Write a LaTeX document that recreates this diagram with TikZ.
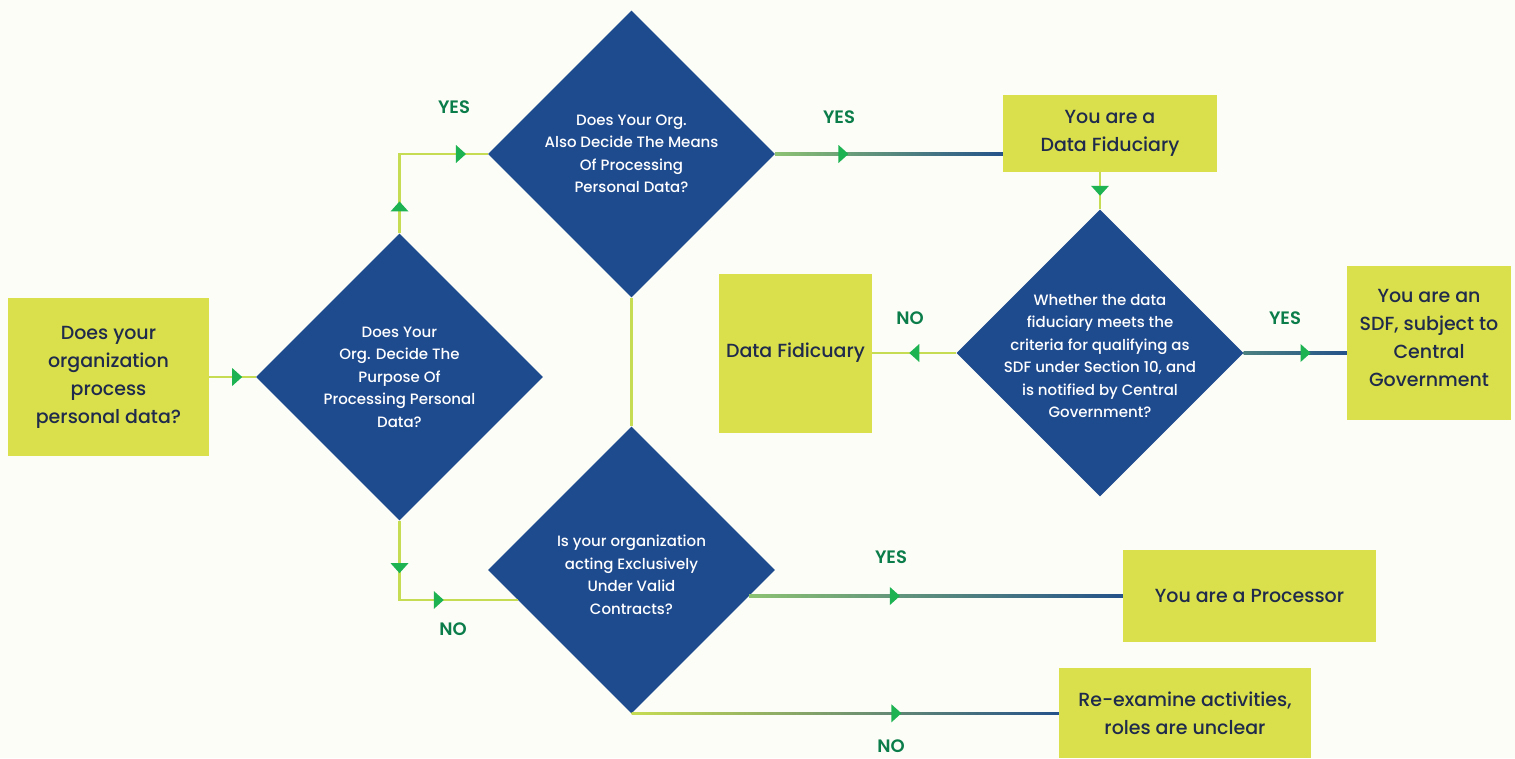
\documentclass[tikz,border=0pt]{standalone}
\usepackage{fontspec}
\setmainfont{Poppins}[UprightFont=* Medium, BoldFont=* SemiBold]
\usetikzlibrary{shapes.geometric,decorations.markings,calc}

\definecolor{bgcol}{HTML}{FDFDF7}
\definecolor{boxcol}{HTML}{D9E04B}
\definecolor{diacol}{HTML}{1E4A8E}
\definecolor{txtcol}{HTML}{1F2A4C}
\definecolor{yescol}{HTML}{0B7D4A}
\definecolor{tipcol}{HTML}{1DB352}
\definecolor{lineA}{HTML}{C6DC52}
\definecolor{lineB}{HTML}{8CC272}
\definecolor{lineC}{HTML}{24528A}
\definecolor{lineD}{HTML}{4B8080}

\newcommand\tipmark{\fill[tipcol] (5pt,0) -- (-5pt,9pt) -- (-5pt,-9pt) -- cycle;}

\tikzset{
  answerbox/.style={rectangle, fill=boxcol, text=txtcol, align=center, inner sep=0pt,
    font=\fontsize{19}{28}\selectfont},
  decision/.style={diamond, fill=diacol, inner sep=0pt, minimum width=287pt, minimum height=287pt},
  dtext/.style={text=white, align=center, font=\fontsize{15}{22.5}\selectfont},
  answer/.style={text=yescol, font=\bfseries\fontsize{18}{20}\selectfont},
  link/.style={draw=#1, line width=2.5pt},
  fade/.style 2 args={left color=#1, right color=#2},
  tip/.style={postaction={decorate}, decoration={markings, mark=at position #1 with {\tipmark}}},
  tips/.style 2 args={postaction={decorate}, decoration={markings,
    mark=at position #1 with {\tipmark}, mark=at position #2 with {\tipmark}}},
}

\begin{document}
\begin{tikzpicture}[x=1pt, y=-1pt]
\fill[bgcol] (0,0) rectangle (1515,758);
\useasboundingbox (0,0) rectangle (1515,758);

% boxes
\node[answerbox, minimum width=201pt, minimum height=158pt] (ask) at (108.5,377) {Does your\\organization\\process\\personal data?};
\node[answerbox, minimum width=214pt, minimum height=77pt] (fid) at (1110,133.5) {You are a\\Data Fiduciary};
\node[answerbox, minimum width=153pt, minimum height=159pt] (plain) at (795.5,353) {Data Fidicuary};
\node[answerbox, minimum width=164pt, minimum height=154pt, label={[answerbox, fill=none, yshift=5pt]center:{You are an\\SDF, subject to\\Central\\Government}}] (sdf) at (1429,343) {};
\node[answerbox, minimum width=253pt, minimum height=92pt] (proc) at (1249.5,596) {You are a Processor};
\node[answerbox, minimum width=252pt, minimum height=90pt] (unclear) at (1185,713) {Re-examine activities,\\roles are unclear};

% decisions
\node[decision, label={[dtext]center:{Does Your\\Org. Decide The\\Purpose Of\\Processing Personal\\Data?}}] (purpose) at (399.5,377) {};
\node[decision, label={[dtext]center:{Does Your Org.\\Also Decide The Means\\Of Processing\\Personal Data?}}] (means) at (631.5,154) {};
\node[decision, label={[dtext, yshift=-3pt]center:{Whether the data\\fiduciary meets the\\criteria for qualifying as\\SDF under Section 10, and\\is notified by Central\\Government?}}] (sdfq) at (1100,353) {};
\node[decision, label={[dtext, yshift=-5pt]center:{Is your organization\\acting Exclusively\\Under Valid\\Contracts?}}] (contract) at (631.5,570) {};

% links
\draw[link=lineA, tip=0.6] (ask.east) -- (purpose.west);
\draw[link=lineA, tips={0.16}{0.84}] (purpose.north) |- (means.west);
\draw[link=lineA, tips={0.24}{0.6}] (purpose.south) |- ($(contract.west)+(30,30)$);
\draw[link=lineA] (means.south) -- (contract.north);
\draw[link=lineA, tip=0.5] (fid.south -| sdfq.north) -- (sdfq.north);
\draw[link=lineA, tip=0.5] (sdfq.west) -- (plain.east);

\shade[fade={lineB}{lineC}] ($(means.east)+(0,-1.25)$) rectangle ($(fid.west |- means.east)+(0,1.25)$);
\path[tip=0.3] (means.east) -- (fid.west |- means.east);
\shade[fade={lineD}{lineC}] ($(sdfq.east)+(0,-1.25)$) rectangle ($(sdf.west |- sdfq.east)+(0,1.25)$);
\path[tip=0.6] (sdfq.east) -- (sdf.west |- sdfq.east);
\shade[fade={lineB}{lineC}] ($(contract.east)+(-26,24.75)$) rectangle ($(proc.west)+(0,1.25)$);
\path[tip=0.39] ($(contract.east)+(-26,26)$) -- (proc.west);
\shade[fade={lineA}{lineC}] ($(contract.south)+(0,-1.25)$) rectangle ($(unclear.west)+(0,1.25)$);
\path[tip=0.62] (contract.south) -- (unclear.west);

% answers
\node[answer] (yesa) at (454,107) {YES};
\node[answer] (yesb) at (839,117) {YES};
\node[answer] (noa) at (910,318) {NO};
\node[answer] (yesc) at (1285,318) {YES};
\node[answer] (nob) at (453,629) {NO};
\node[answer] (yesd) at (891,557) {YES};
\node[answer] (noc) at (891,746) {NO};
\end{tikzpicture}
\end{document}
